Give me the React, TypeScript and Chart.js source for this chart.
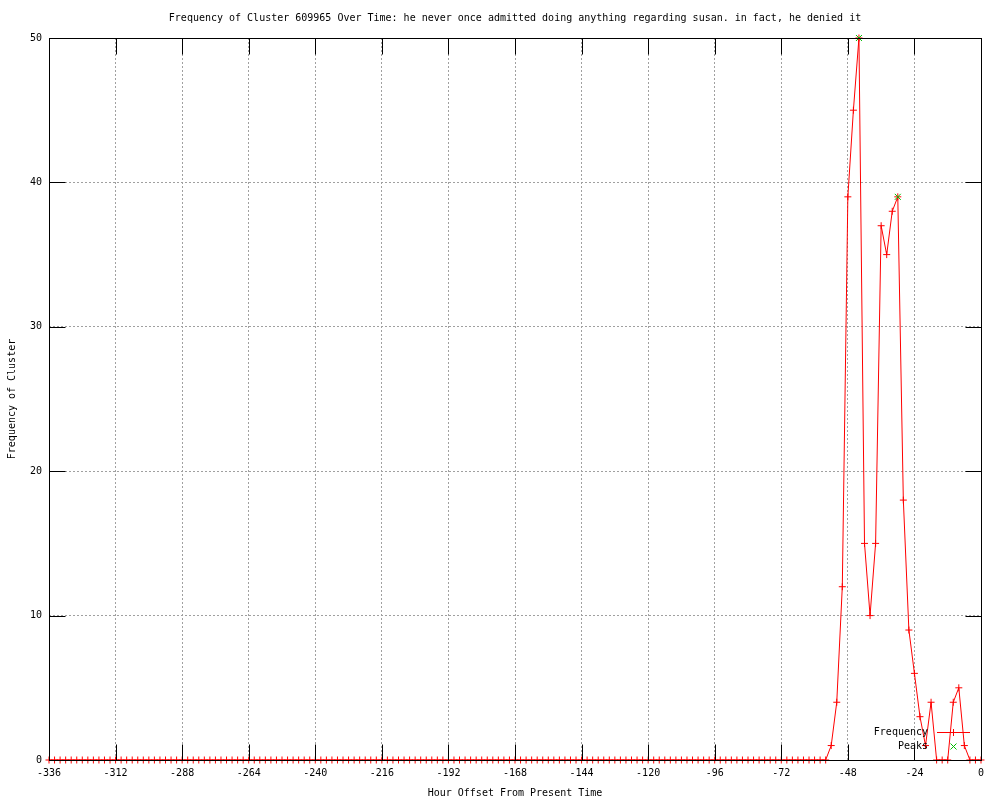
import React, { useEffect, useRef } from "react";
import { Chart, registerables } from "chart.js";

Chart.register(...registerables);

const TITLE =
  "Frequency of Cluster 609965 Over Time: he never once admitted doing anything regarding susan. in fact, he denied it";
const X_LABEL = "Hour Offset From Present Time";
const Y_LABEL = "Frequency of Cluster";

const FIRST_HOUR = -336;
const HOUR_STEP = 2;

// one value every 2 hours, from -336 to 0
const frequency = [
  // -336 .. -298
  0, 0, 0, 0, 0, 0, 0, 0, 0, 0, 0, 0, 0, 0, 0, 0, 0, 0, 0, 0,
  // -296 .. -258
  0, 0, 0, 0, 0, 0, 0, 0, 0, 0, 0, 0, 0, 0, 0, 0, 0, 0, 0, 0,
  // -256 .. -218
  0, 0, 0, 0, 0, 0, 0, 0, 0, 0, 0, 0, 0, 0, 0, 0, 0, 0, 0, 0,
  // -216 .. -178
  0, 0, 0, 0, 0, 0, 0, 0, 0, 0, 0, 0, 0, 0, 0, 0, 0, 0, 0, 0,
  // -176 .. -138
  0, 0, 0, 0, 0, 0, 0, 0, 0, 0, 0, 0, 0, 0, 0, 0, 0, 0, 0, 0,
  // -136 .. -98
  0, 0, 0, 0, 0, 0, 0, 0, 0, 0, 0, 0, 0, 0, 0, 0, 0, 0, 0, 0,
  // -96 .. -58
  0, 0, 0, 0, 0, 0, 0, 0, 0, 0, 0, 0, 0, 0, 0, 0, 0, 0, 0, 0,
  // -56 .. 0
  0, 1, 4, 12, 39, 45, 50, 15, 10, 15, 37, 35, 38, 39, 18, 9, 6, 3, 1, 4, 0, 0, 0, 4, 5, 1, 0, 0, 0,
];

const peakHours = [-44, -30];
const peakValues = [50, 39];

const xTickValues = [-336, -312, -288, -264, -240, -216, -192, -168, -144, -120, -96, -72, -48, -24, 0];
const yTickValues = [0, 10, 20, 30, 40, 50];

const FONT_FAMILY = "'DejaVu Sans Mono', 'Liberation Mono', monospace";

const frequencyPoints = frequency.map((v, i) => ({ x: FIRST_HOUR + HOUR_STEP * i, y: v }));
const peakPoints = peakHours.map((h, i) => ({ x: h, y: peakValues[i] }));

function drawMarker(ctx: CanvasRenderingContext2D, style: string, cx: number, cy: number, color: string) {
  ctx.save();
  ctx.strokeStyle = color;
  ctx.lineWidth = 1;
  ctx.beginPath();
  if (style === "cross") {
    ctx.moveTo(cx - 3.5, cy);
    ctx.lineTo(cx + 3.5, cy);
    ctx.moveTo(cx, cy - 3.5);
    ctx.lineTo(cx, cy + 3.5);
  } else {
    ctx.moveTo(cx - 3, cy - 3);
    ctx.lineTo(cx + 3, cy + 3);
    ctx.moveTo(cx - 3, cy + 3);
    ctx.lineTo(cx + 3, cy - 3);
  }
  ctx.stroke();
  ctx.restore();
}

const gnuplotFrame = {
  id: "gnuplotFrame",
  afterDraw(chart: any) {
    const { ctx, chartArea } = chart;
    const { left, right, top, bottom } = chartArea;
    const xs = chart.scales.x;
    const ys = chart.scales.y;
    const TL = 16;
    ctx.save();
    ctx.strokeStyle = "#000";
    ctx.lineWidth = 1;
    ctx.setLineDash([]);
    ctx.beginPath();
    for (const v of xTickValues) {
      const px = Math.round(xs.getPixelForValue(v)) + 0.5;
      ctx.moveTo(px, bottom + 0.5);
      ctx.lineTo(px, bottom + 0.5 - TL);
      ctx.moveTo(px, top + 0.5);
      ctx.lineTo(px, top + 0.5 + TL);
    }
    for (const v of yTickValues) {
      const py = Math.round(ys.getPixelForValue(v)) + 0.5;
      ctx.moveTo(left + 0.5, py);
      ctx.lineTo(left + 0.5 + TL, py);
      ctx.moveTo(right + 0.5, py);
      ctx.lineTo(right + 0.5 - TL, py);
    }
    ctx.stroke();
    ctx.strokeRect(left + 0.5, top + 0.5, right - left, bottom - top);

    // title
    ctx.fillStyle = "#000";
    ctx.font = `10px ${FONT_FAMILY}`;
    ctx.textAlign = "center";
    ctx.textBaseline = "middle";
    ctx.fillText(TITLE, (left + right) / 2, 18);

    // key (bottom right, inside)
    const datasets = chart.data.datasets;
    datasets.forEach((ds: any, i: number) => {
      const y = 732 + 14 * i;
      ctx.textAlign = "right";
      ctx.fillStyle = "#000";
      ctx.fillText(ds.label, 928, y);
      const color = ds.borderColor as string;
      if (ds.showLine !== false) {
        ctx.strokeStyle = color;
        ctx.beginPath();
        ctx.moveTo(937, y + 0.5);
        ctx.lineTo(970, y + 0.5);
        ctx.stroke();
      }
      drawMarker(ctx, ds.pointStyle, 953.5, y + 0.5, ds.pointBorderColor || color);
    });
    ctx.restore();
  },
};

export default function App() {
  const ref = useRef<HTMLCanvasElement>(null);

  useEffect(() => {
    if (!ref.current) return;
    Chart.defaults.font.family = FONT_FAMILY;
    Chart.defaults.font.size = 10;
    Chart.defaults.color = "#000";

    const chart = new Chart(ref.current, {
      type: "line",
      data: {
        datasets: [
          {
            label: "Frequency",
            data: frequencyPoints,
            borderColor: "#ff0000",
            backgroundColor: "#ff0000",
            pointBorderColor: "#ff0000",
            borderWidth: 1,
            pointStyle: "cross",
            pointRadius: 3.5,
            pointBorderWidth: 1,
            tension: 0,
            fill: false,
            clip: false as any,
            order: 2,
          },
          {
            label: "Peaks",
            data: peakPoints,
            borderColor: "#00c000",
            backgroundColor: "#00c000",
            pointBorderColor: "#00c000",
            showLine: false,
            pointStyle: "crossRot",
            pointRadius: 4.25,
            pointBorderWidth: 1,
            clip: false as any,
            order: 1,
          },
        ],
      },
      options: {
        responsive: false,
        animation: false,
        devicePixelRatio: 1,
        layout: { padding: { left: 0, top: 38, right: 19, bottom: 0 } },
        plugins: {
          legend: { display: false },
          title: { display: false },
          tooltip: { enabled: false },
        },
        events: [],
        scales: {
          x: {
            type: "linear",
            min: -336,
            max: 0,
            afterBuildTicks: (scale: any) => {
              scale.ticks = xTickValues.map((v) => ({ value: v }));
            },
            afterFit: (scale: any) => {
              scale.height = 40;
            },
            ticks: {
              padding: 7,
              maxRotation: 0,
              autoSkip: false,
              color: "#000",
              font: { family: FONT_FAMILY, size: 10 },
              callback: (v: any) => String(v),
            },
            grid: {
              color: "#a0a0a0",
              lineWidth: 1,
              drawTicks: false,
            },
            border: { display: false, dash: [2, 2] },
            title: {
              display: true,
              text: X_LABEL,
              color: "#000",
              font: { family: FONT_FAMILY, size: 10 },
              padding: { top: 0, bottom: 1 },
            },
          },
          y: {
            type: "linear",
            min: 0,
            max: 50,
            afterBuildTicks: (scale: any) => {
              scale.ticks = yTickValues.map((v) => ({ value: v }));
            },
            afterFit: (scale: any) => {
              scale.width = 49;
            },
            ticks: {
              padding: 7,
              color: "#000",
              font: { family: FONT_FAMILY, size: 10 },
              callback: (v: any) => String(v),
            },
            grid: {
              color: "#a0a0a0",
              lineWidth: 1,
              drawTicks: false,
            },
            border: { display: false, dash: [2, 2] },
            title: {
              display: true,
              text: Y_LABEL,
              color: "#000",
              font: { family: FONT_FAMILY, size: 10 },
              padding: { top: 6, bottom: 0 },
            },
          },
        },
      },
      plugins: [gnuplotFrame],
    } as any);

    return () => chart.destroy();
  }, []);

  return (
    <div style={{ position: "absolute", left: 0, top: 0, width: 1000, height: 800, background: "#fff" }}>
      <canvas ref={ref} width={1000} height={800} style={{ display: "block", width: 1000, height: 800 }} />
    </div>
  );
}
